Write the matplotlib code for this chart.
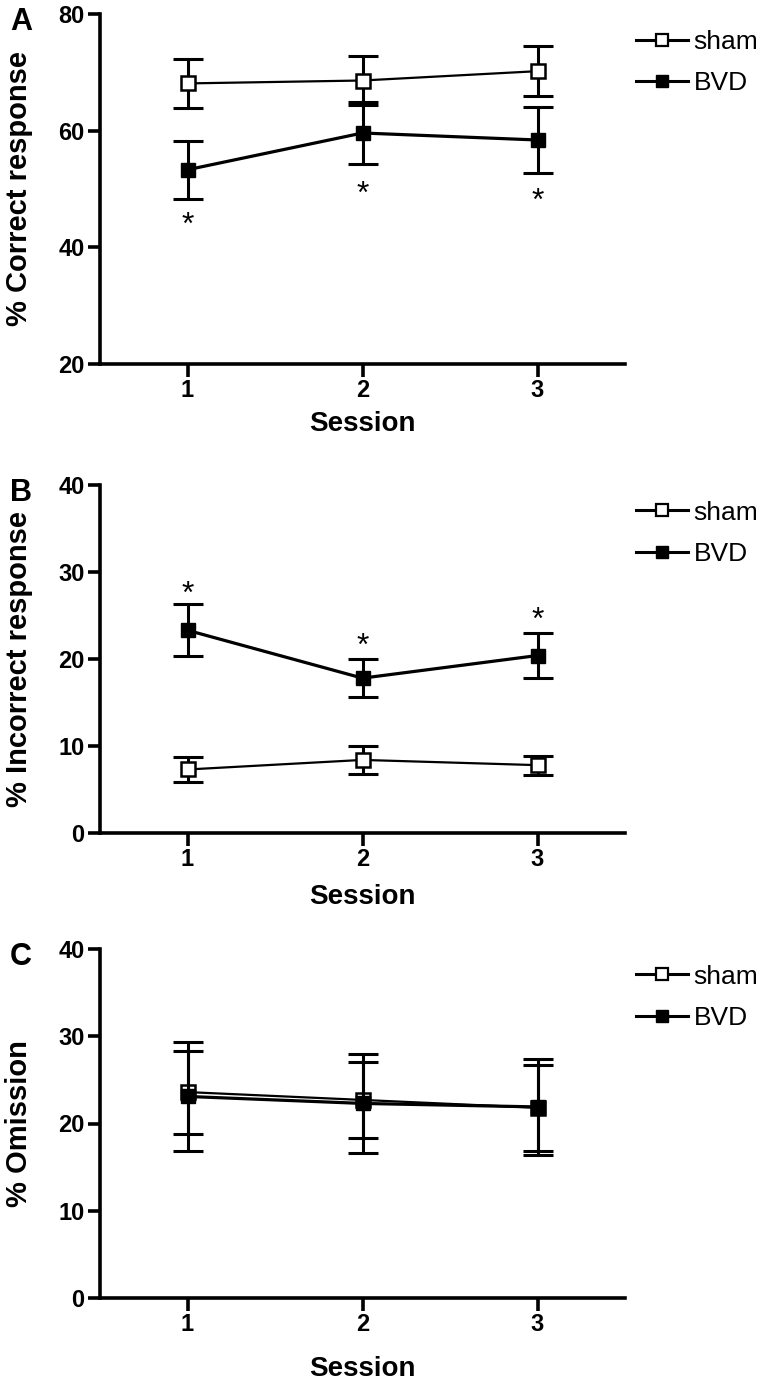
import matplotlib
matplotlib.use("Agg")
import matplotlib.pyplot as plt
from matplotlib.lines import Line2D

plt.rcParams['font.family'] = ['Liberation Sans', 'DejaVu Sans']

sessions = [1, 2, 3]

# panel A - % correct response
a_sham = [68.1, 68.6, 70.2]
a_sham_err = [4.2, 4.2, 4.3]
a_bvd = [53.3, 59.6, 58.4]
a_bvd_err = [5.0, 5.4, 5.7]
a_star = [45.0, 50.3, 49.0]

# panel B - % incorrect response
b_sham = [7.3, 8.4, 7.8]
b_sham_err = [1.4, 1.6, 1.1]
b_bvd = [23.3, 17.8, 20.4]
b_bvd_err = [3.0, 2.2, 2.6]
b_star = [28.2, 22.2, 25.2]

# panel C - % omission
c_sham = [23.6, 22.7, 21.8]
c_sham_err = [4.75, 4.35, 4.9]
c_bvd = [23.1, 22.3, 21.9]
c_bvd_err = [6.2, 5.7, 5.5]

panels = [
    ("A", "% Correct response", a_sham, a_sham_err, a_bvd, a_bvd_err, a_star, (20, 80), [20, 40, 60, 80]),
    ("B", "% Incorrect response", b_sham, b_sham_err, b_bvd, b_bvd_err, b_star, (0, 40), [0, 10, 20, 30, 40]),
    ("C", "% Omission", c_sham, c_sham_err, c_bvd, c_bvd_err, None, (0, 40), [0, 10, 20, 30, 40]),
]

W, H = 768, 1381
fig = plt.figure(figsize=(W / 100, H / 100), dpi=100)

# axes boxes in pixels: (top, bottom), and x label pad per panel
boxes = [(14, 364), (485, 833), (949, 1298)]
xpads = [6, 9, 14]
left_px, right_px = 100, 625

for (letter, ylabel, sham, sham_err, bvd, bvd_err, stars, ylim, yticks), (top, bot), xpad in zip(panels, boxes, xpads):
    ax = fig.add_axes([left_px / W, (H - bot) / H, (right_px - left_px) / W, (bot - top) / H])

    ax.errorbar(sessions, sham, yerr=sham_err, fmt='none', ecolor='black',
                elinewidth=2.2, capsize=11, capthick=2.2, zorder=3)
    ax.plot(sessions, sham, color='black', lw=1.6, marker='s', ms=9.5,
            mfc='white', mec='black', mew=1.8, zorder=4)
    ax.errorbar(sessions, bvd, yerr=bvd_err, fmt='none', ecolor='black',
                elinewidth=2.2, capsize=11, capthick=2.2, zorder=5)
    ax.plot(sessions, bvd, color='black', lw=2.3, marker='s', ms=10,
            mfc='black', mec='black', zorder=6)

    if stars is not None:
        for x, y in zip(sessions, stars):
            ax.annotate('*', (x, y), xytext=(0, -11), textcoords='offset points',
                        ha='center', va='baseline', fontsize=23)

    ax.set_xlim(0.5, 3.5)
    ax.set_ylim(*ylim)
    ax.set_xticks(sessions)
    ax.set_yticks(yticks)
    for s in ['top', 'right']:
        ax.spines[s].set_visible(False)
    for s in ['left', 'bottom']:
        ax.spines[s].set_linewidth(2.6)
    ax.tick_params(width=2.6, length=9, labelsize=17, pad=2)
    for lab in ax.get_xticklabels() + ax.get_yticklabels():
        lab.set_fontweight('bold')
    ax.set_xlabel("Session", fontsize=20, fontweight='bold', labelpad=xpad)
    ax.set_ylabel(ylabel, fontsize=21, fontweight='bold', labelpad=18)

    handles = [
        Line2D([], [], color='black', lw=2.2, marker='s', ms=8.5, mfc='white', mec='black', mew=1.6),
        Line2D([], [], color='black', lw=2.2, marker='s', ms=8.5, mfc='black', mec='black'),
    ]
    ax.legend(handles, ['sham', 'BVD'], loc='upper left', bbox_to_anchor=(1.02, 0.955),
              frameon=False, fontsize=19, handlelength=2.0, handletextpad=0.2,
              labelspacing=0.65, borderaxespad=0, borderpad=0)

    fig.text(10 / W, (H - top + 7) / H, letter, fontsize=22, fontweight='bold',
             ha='left', va='top')

plt.savefig('out.png', dpi=100)
